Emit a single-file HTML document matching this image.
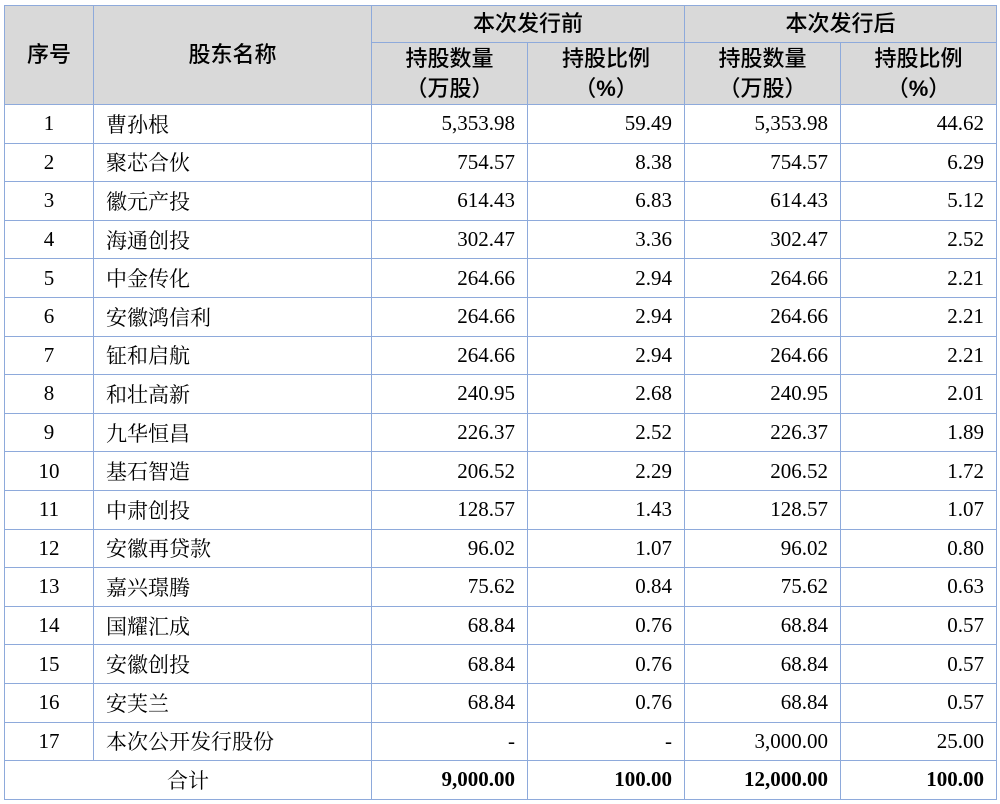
<!DOCTYPE html>
<html><head><meta charset="utf-8"><style>
body{margin:0;background:#fff;width:1000px;height:804px;overflow:hidden}
table{position:absolute;left:4px;top:5px;border-collapse:collapse;table-layout:fixed;width:992px;font-family:"Liberation Serif","Noto Serif CJK SC",serif;font-size:21px;color:#000}
td,th{border:1px solid #8eaadb;padding:0 12px;overflow:hidden;white-space:nowrap;box-sizing:border-box}
th{background:#d9d9d9;font-family:"Liberation Sans","Noto Sans CJK SC",sans-serif;font-weight:500;text-align:center;font-size:22px;line-height:30px}
th b{font-weight:bold}
tr.d td{height:38.6px}
td.c{text-align:center}
td.r{text-align:right}
td.n{text-align:left;padding-left:12px}
tr.t td{font-weight:bold}
</style></head><body>
<table>
<colgroup><col style="width:89px"><col style="width:278px"><col style="width:156px"><col style="width:157px"><col style="width:156px"><col style="width:156px"></colgroup>
<tr style="height:37px"><th rowspan="2">序号</th><th rowspan="2">股东名称</th><th colspan="2">本次发行前</th><th colspan="2">本次发行后</th></tr>
<tr style="height:62px"><th>持股数量<br>（万股）</th><th>持股比例<br>（<b>%</b>）</th><th>持股数量<br>（万股）</th><th>持股比例<br>（<b>%</b>）</th></tr>
<tr class="d"><td class="c">1</td><td class="n">曹孙根</td><td class="r">5,353.98</td><td class="r">59.49</td><td class="r">5,353.98</td><td class="r">44.62</td></tr>
<tr class="d"><td class="c">2</td><td class="n">聚芯合伙</td><td class="r">754.57</td><td class="r">8.38</td><td class="r">754.57</td><td class="r">6.29</td></tr>
<tr class="d"><td class="c">3</td><td class="n">徽元产投</td><td class="r">614.43</td><td class="r">6.83</td><td class="r">614.43</td><td class="r">5.12</td></tr>
<tr class="d"><td class="c">4</td><td class="n">海通创投</td><td class="r">302.47</td><td class="r">3.36</td><td class="r">302.47</td><td class="r">2.52</td></tr>
<tr class="d"><td class="c">5</td><td class="n">中金传化</td><td class="r">264.66</td><td class="r">2.94</td><td class="r">264.66</td><td class="r">2.21</td></tr>
<tr class="d"><td class="c">6</td><td class="n">安徽鸿信利</td><td class="r">264.66</td><td class="r">2.94</td><td class="r">264.66</td><td class="r">2.21</td></tr>
<tr class="d"><td class="c">7</td><td class="n">钲和启航</td><td class="r">264.66</td><td class="r">2.94</td><td class="r">264.66</td><td class="r">2.21</td></tr>
<tr class="d"><td class="c">8</td><td class="n">和壮高新</td><td class="r">240.95</td><td class="r">2.68</td><td class="r">240.95</td><td class="r">2.01</td></tr>
<tr class="d"><td class="c">9</td><td class="n">九华恒昌</td><td class="r">226.37</td><td class="r">2.52</td><td class="r">226.37</td><td class="r">1.89</td></tr>
<tr class="d"><td class="c">10</td><td class="n">基石智造</td><td class="r">206.52</td><td class="r">2.29</td><td class="r">206.52</td><td class="r">1.72</td></tr>
<tr class="d"><td class="c">11</td><td class="n">中肃创投</td><td class="r">128.57</td><td class="r">1.43</td><td class="r">128.57</td><td class="r">1.07</td></tr>
<tr class="d"><td class="c">12</td><td class="n">安徽再贷款</td><td class="r">96.02</td><td class="r">1.07</td><td class="r">96.02</td><td class="r">0.80</td></tr>
<tr class="d"><td class="c">13</td><td class="n">嘉兴璟腾</td><td class="r">75.62</td><td class="r">0.84</td><td class="r">75.62</td><td class="r">0.63</td></tr>
<tr class="d"><td class="c">14</td><td class="n">国耀汇成</td><td class="r">68.84</td><td class="r">0.76</td><td class="r">68.84</td><td class="r">0.57</td></tr>
<tr class="d"><td class="c">15</td><td class="n">安徽创投</td><td class="r">68.84</td><td class="r">0.76</td><td class="r">68.84</td><td class="r">0.57</td></tr>
<tr class="d"><td class="c">16</td><td class="n">安芙兰</td><td class="r">68.84</td><td class="r">0.76</td><td class="r">68.84</td><td class="r">0.57</td></tr>
<tr class="d"><td class="c">17</td><td class="n">本次公开发行股份</td><td class="r">-</td><td class="r">-</td><td class="r">3,000.00</td><td class="r">25.00</td></tr>
<tr class="d t"><td class="c" colspan="2" style="font-weight:normal">合计</td><td class="r">9,000.00</td><td class="r">100.00</td><td class="r">12,000.00</td><td class="r">100.00</td></tr>
</table>
</body></html>
